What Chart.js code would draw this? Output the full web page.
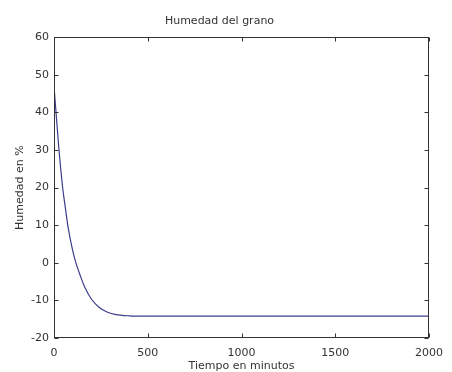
<!DOCTYPE html>
<html>
<head>
<meta charset="utf-8">
<script src="https://cdn.jsdelivr.net/npm/chart.js@4"></script>
<style>
html,body{margin:0;padding:0;background:#fff;}
#wrap{width:452px;height:372px;}
</style>
</head>
<body>
<div id="wrap"><canvas id="c" width="452" height="372"></canvas></div>
<script>
const chartTitle = "Humedad del grano";
const xTitle = "Tiempo en minutos";
const yTitle = "Humedad en %";
const timeMinutes = [0, 10, 25, 45, 60, 75, 100, 115, 140, 165, 200, 240, 280, 325, 400, 500, 750, 1000, 1500, 2000];
const humidity =    [47, 40.5, 31, 20.5, 14.8, 9.5, 3.2, 0.3, -3.4, -6.6, -9.7, -11.8, -13, -13.7, -14.1, -14.2, -14.2, -14.2, -14.2, -14.2];
const xTicks = [0, 500, 1000, 1500, 2000];
const yTicks = [-20, -10, 0, 10, 20, 30, 40, 50, 60];

const FONT = "'DejaVu Sans', sans-serif";
const TXT = '#333';

const boxPlugin = {
  id: 'matlabBox',
  afterDraw(chart) {
    const {ctx, chartArea: a, scales} = chart;
    ctx.save();
    ctx.strokeStyle = '#333';
    ctx.lineWidth = 1;
    const L = Math.round(a.left) + 0.5, R = Math.round(a.right) - 0.5;
    const T = Math.round(a.top) + 0.5, B = Math.round(a.bottom) - 0.5;
    ctx.strokeRect(L, T, R - L, B - T);
    const tl = 4;
    ctx.beginPath();
    xTicks.forEach(v => {
      const px = Math.round(scales.x.getPixelForValue(v)) + 0.5;
      ctx.moveTo(px, B); ctx.lineTo(px, B - tl);
      ctx.moveTo(px, T); ctx.lineTo(px, T + tl);
    });
    yTicks.forEach(v => {
      const py = Math.round(scales.y.getPixelForValue(v)) + 0.5;
      ctx.moveTo(L, py); ctx.lineTo(L + tl, py);
      ctx.moveTo(R, py); ctx.lineTo(R - tl, py);
    });
    ctx.stroke();
    ctx.restore();
  }
};

new Chart(document.getElementById('c'), {
  type: 'scatter',
  data: {
    datasets: [{
      data: timeMinutes.map((t, i) => ({x: t, y: humidity[i]})),
      showLine: true,
      borderColor: '#3c3c8c',
      borderWidth: 1.2,
      pointRadius: 0,
      cubicInterpolationMode: 'monotone',
      fill: false
    }]
  },
  plugins: [boxPlugin],
  options: {
    responsive: false,
    animation: false,
    devicePixelRatio: 1,
    layout: {padding: {left: 0, right: 13, top: 0, bottom: 0}},
    plugins: {
      legend: {display: false},
      tooltip: {enabled: false},
      title: {
        display: true,
        text: chartTitle,
        color: TXT,
        font: {family: FONT, size: 11, weight: 'normal', lineHeight: 1.2},
        padding: {top: 15, bottom: 9}
      }
    },
    scales: {
      x: {
        type: 'linear',
        min: 0, max: 2000,
        afterBuildTicks: s => { s.ticks = xTicks.map(v => ({value: v})); },
        afterFit: s => { s.height = 34; },
        grid: {display: false, drawTicks: false},
        border: {display: false},
        ticks: {color: TXT, font: {family: FONT, size: 11}, padding: 9, maxRotation: 0, autoSkip: false,
                callback: v => String(v)},
        title: {display: true, text: xTitle, color: TXT, font: {family: FONT, size: 11, lineHeight: 1.1}, padding: {top: 0, bottom: 0}}
      },
      y: {
        type: 'linear',
        min: -20, max: 60,
        afterBuildTicks: s => { s.ticks = yTicks.map(v => ({value: v})); },
        afterFit: s => { s.width = 54; },
        grid: {display: false, drawTicks: false},
        border: {display: false},
        ticks: {color: TXT, font: {family: FONT, size: 11}, padding: 5, autoSkip: false,
                callback: v => String(v)},
        title: {display: true, text: yTitle, color: TXT, font: {family: FONT, size: 11, lineHeight: 1.2}, padding: {top: 14, bottom: 0}}
      }
    }
  }
});
</script>
</body>
</html>
